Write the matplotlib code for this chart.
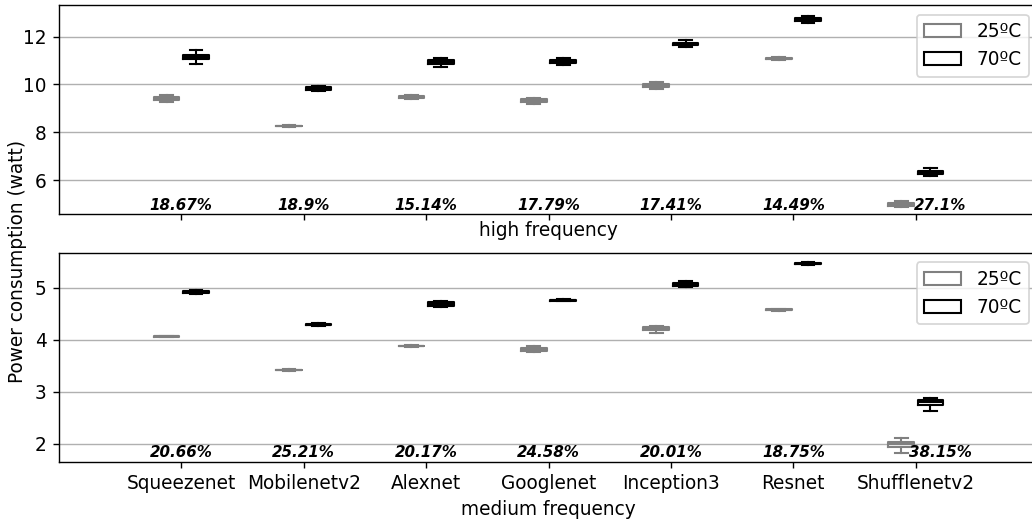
import numpy as np
from matplotlib import pyplot as plt
from matplotlib.patches import Patch

plt.rcParams['font.size'] = 10.7

models = ['Squeezenet', 'Mobilenetv2', 'Alexnet', 'Googlenet', 'Inception3', 'Resnet', 'Shufflenetv2']

# box stats: whisker low, q1, median, q3, whisker high
high_25_lo = [9.25, 8.23, 9.38, 9.18, 9.83, 11.03, 4.88]
high_25_q1 = [9.33, 8.25, 9.43, 9.28, 9.90, 11.06, 4.94]
high_25_med = [9.40, 8.26, 9.48, 9.34, 9.95, 11.08, 5.00]
high_25_q3 = [9.48, 8.27, 9.53, 9.39, 10.00, 11.10, 5.06]
high_25_hi = [9.55, 8.29, 9.58, 9.45, 10.10, 11.13, 5.15]

high_70_lo = [10.86, 9.72, 10.72, 10.80, 11.55, 12.58, 6.18]
high_70_q1 = [11.07, 9.78, 10.87, 10.90, 11.63, 12.65, 6.27]
high_70_med = [11.16, 9.83, 10.94, 10.97, 11.69, 12.71, 6.33]
high_70_q3 = [11.24, 9.88, 11.01, 11.04, 11.75, 12.77, 6.40]
high_70_hi = [11.45, 9.95, 11.10, 11.12, 11.85, 12.85, 6.50]

med_25_lo = [4.05, 3.41, 3.87, 3.76, 4.14, 4.56, 1.83]
med_25_q1 = [4.06, 3.415, 3.88, 3.79, 4.18, 4.57, 1.94]
med_25_med = [4.065, 3.42, 3.885, 3.82, 4.21, 4.58, 1.99]
med_25_q3 = [4.07, 3.425, 3.89, 3.85, 4.24, 4.59, 2.03]
med_25_hi = [4.08, 3.43, 3.90, 3.89, 4.27, 4.60, 2.11]

med_70_lo = [4.89, 4.26, 4.63, 4.74, 5.01, 5.44, 2.64]
med_70_q1 = [4.91, 4.28, 4.66, 4.75, 5.04, 5.45, 2.75]
med_70_med = [4.92, 4.29, 4.69, 4.76, 5.07, 5.46, 2.80]
med_70_q3 = [4.94, 4.30, 4.72, 4.77, 5.10, 5.47, 2.85]
med_70_hi = [4.96, 4.32, 4.75, 4.78, 5.14, 5.49, 2.89]

high_pct = [18.67, 18.9, 15.14, 17.79, 17.41, 14.49, 27.1]
medium_pct = [20.66, 25.21, 20.17, 24.58, 20.01, 18.75, 38.15]
label_shift = [0, 0, 0, 0, 0, 0, 0.2]


def make_stats(lo, q1, med, q3, hi):
    return [dict(whislo=a, q1=b, med=c, q3=d, whishi=e, fliers=[])
            for a, b, c, d, e in zip(lo, q1, med, q3, hi)]


def draw_boxes(ax, stats, pos, color):
    props = dict(color=color, linewidth=1.2)
    ax.bxp(stats, positions=pos, widths=0.21, showfliers=False,
           boxprops=props, whiskerprops=props, capprops=props,
           medianprops=props, manage_ticks=False)


fig, (ax1, ax2) = plt.subplots(2, 1, figsize=(1032 / 125, 522 / 125), dpi=125)
plt.subplots_adjust(left=0.057, right=1.006, top=0.9895, bottom=0.115, hspace=0.185)

x = np.arange(len(models))

panels = [
    (ax1, make_stats(high_25_lo, high_25_q1, high_25_med, high_25_q3, high_25_hi),
     make_stats(high_70_lo, high_70_q1, high_70_med, high_70_q3, high_70_hi),
     high_pct, 'high frequency', (4.57, 13.3)),
    (ax2, make_stats(med_25_lo, med_25_q1, med_25_med, med_25_q3, med_25_hi),
     make_stats(med_70_lo, med_70_q1, med_70_med, med_70_q3, med_70_hi),
     medium_pct, 'medium frequency', (1.65, 5.67)),
]

for ax, s25, s70, pct, xlabel, ylim in panels:
    ax.yaxis.grid(True, color='#b0b0b0', linewidth=0.8)
    ax.set_axisbelow(True)
    draw_boxes(ax, s25, x - 0.12, 'gray')
    draw_boxes(ax, s70, x + 0.12, 'black')
    for i, p in enumerate(pct):
        ax.text(x[i] + label_shift[i], 0.008, str(p) + '%', transform=ax.get_xaxis_transform(),
                ha='center', va='bottom', fontsize=8.7, fontweight='bold', fontstyle='italic')
    ax.set_xlim(-1, 7)
    ax.set_ylim(*ylim)
    ax.set_xticks(x)
    ax.set_xticklabels(models)
    ax.set_xlabel(xlabel)
    ax.legend(handles=[Patch(facecolor='white', edgecolor='gray', linewidth=1.2, label='25ºC'),
                       Patch(facecolor='white', edgecolor='black', linewidth=1.2, label='70ºC')],
              loc='upper right')

ax1.tick_params(axis='x', labelbottom=False)
ax1.xaxis.labelpad = 0.5
ax1.set_yticks([6, 8, 10, 12])
ax2.set_yticks([2, 3, 4, 5])

fig.text(0.017, 0.5, 'Power consumption (watt)', rotation=90, va='center', ha='center')

fig.savefig('out.png')
